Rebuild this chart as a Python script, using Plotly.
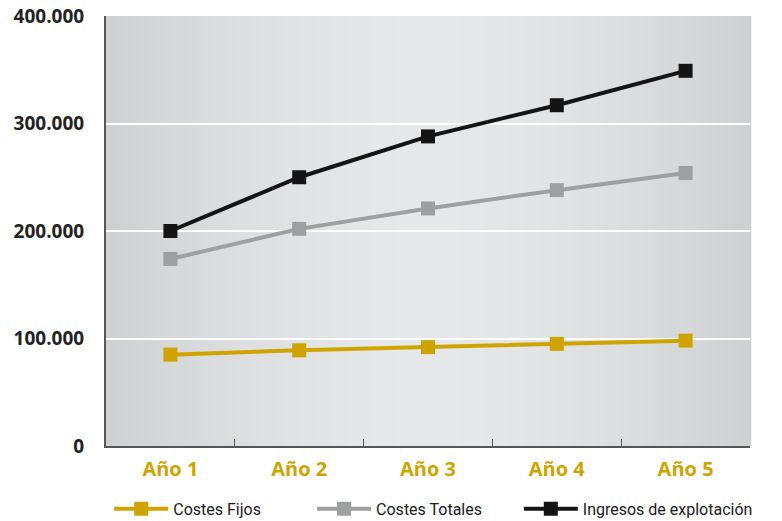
import plotly.graph_objects as go

# Años del periodo analizado
categorias = ["Año 1", "Año 2", "Año 3", "Año 4", "Año 5"]

# Series (euros)
costes_fijos = [85000, 89000, 92000, 95000, 98000]
costes_totales = [174000, 202000, 221000, 238000, 254000]
ingresos_explotacion = [200000, 250000, 288000, 317000, 349000]

# Eje Y
y_ticks = [0, 100000, 200000, 300000, 400000]

ORO = "#d0a400"
GRIS = "#9d9fa1"
NEGRO = "#141414"

fig = go.Figure()

# Cada serie lleva su propia leyenda para colocarlas en fila bajo el eje
series = [
    ("Costes Fijos", costes_fijos, ORO, "legend", 0.005),
    ("Costes Totales", costes_totales, GRIS, "legend2", 0.320),
    ("Ingresos de explotación", ingresos_explotacion, NEGRO, "legend3", 0.641),
]
leyendas = {}
for nombre, valores, color, leyenda, pos_x in series:
    fig.add_trace(go.Scatter(
        x=categorias, y=valores, name=nombre, mode="lines+markers",
        line=dict(color=color, width=4),
        marker=dict(symbol="square", size=14, color=color),
        legend=leyenda,
    ))
    leyendas[leyenda] = dict(
        orientation="h", x=pos_x, xanchor="left", y=-0.146, yanchor="middle",
        font=dict(family="Liberation Sans Narrow, Roboto, sans-serif", size=16, color="#1a1a1a"),
        itemwidth=54,
        bgcolor="rgba(0,0,0,0)",
    )

# Fondo del área de trazado: degradado horizontal gris, más claro en el centro
def tono(t):
    centro = 0.50
    d = abs(t - centro) / (centro if t < centro else 1 - centro)
    f = d ** 1.6
    claro, oscuro = (231, 232, 233), (206, 208, 210)
    return "rgb(%d,%d,%d)" % tuple(round(c + (o - c) * f) for c, o in zip(claro, oscuro))

n = 80
shapes = []
for i in range(n):
    x0, x1 = i / n, (i + 1) / n
    shapes.append(dict(
        type="rect", xref="paper", yref="paper", x0=x0, x1=x1 + 0.002, y0=0, y1=1,
        fillcolor=tono((x0 + x1) / 2), line=dict(width=0), layer="below",
    ))

fig.update_layout(
    width=782, height=521,
    margin=dict(l=106, r=32, t=16, b=75, autoexpand=False),
    paper_bgcolor="white",
    plot_bgcolor="#dcdee0",
    separators=",.",
    shapes=shapes,
    showlegend=True,
    xaxis=dict(
        type="category",
        tickson="boundaries", ticks="inside", ticklen=7, tickcolor="#555555", tickwidth=1,
        showline=True, linecolor="#555555", linewidth=2,
        showgrid=False, zeroline=False,
        tickfont=dict(family="Open Sans, sans-serif", size=20, color=ORO, weight="bold"),
        ticklabelstandoff=4,
        range=[-0.5, 4.5],
    ),
    yaxis=dict(
        range=[0, 400000],
        tickvals=y_ticks, tickformat=",d",
        ticks="", ticklabelstandoff=16,
        showline=True, linecolor="#555555", linewidth=2,
        showgrid=True, gridcolor="white", gridwidth=2,
        zeroline=False,
        tickfont=dict(family="Open Sans, sans-serif", size=19, color="#222222", weight="bold"),
    ),
    **leyendas,
)

fig.write_html("out.html")
